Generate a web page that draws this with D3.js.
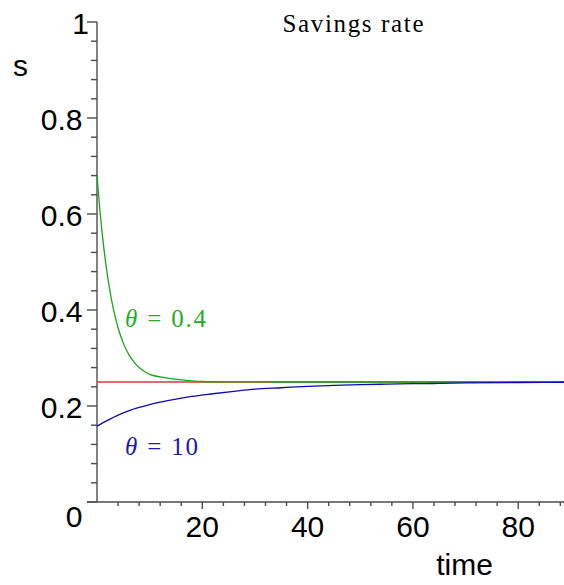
<!DOCTYPE html>
<html>
<head>
<meta charset="utf-8">
<script src="https://cdn.jsdelivr.net/npm/d3@7/dist/d3.min.js"></script>
<style>
  html, body { margin: 0; padding: 0; background: #fff; }
  svg { display: block; }
</style>
</head>
<body>
<svg id="chart" width="564" height="585"></svg>
<script>
// Savings rate s(t) for two values of theta, with the steady state s* = 0.25
const timeFast = [0, 0.5, 1, 1.5, 2, 2.5, 3, 3.5, 4, 5, 6, 7, 8, 9, 10, 12, 14, 16, 18, 20, 22, 25, 30, 40, 60, 89];
const sFast    = [0.680, 0.614, 0.558, 0.511, 0.471, 0.437, 0.408, 0.384, 0.363, 0.331, 0.308, 0.292, 0.280, 0.272, 0.266, 0.2605, 0.257, 0.2545, 0.2525, 0.251, 0.2505, 0.2503, 0.2501, 0.25, 0.25, 0.25];

const timeSlow = [0, 2, 4, 6, 8, 10, 12, 15, 18, 22, 26, 30, 35, 40, 45, 50, 55, 60, 65, 70, 80, 89];
const sSlow    = [0.158, 0.170, 0.181, 0.190, 0.197, 0.203, 0.208, 0.2145, 0.220, 0.2255, 0.2305, 0.235, 0.238, 0.241, 0.243, 0.2445, 0.2455, 0.2465, 0.247, 0.248, 0.249, 0.2495];

const timeSteady = [0, 89];
const sSteady    = [0.25, 0.25];

const yTickValues = [0, 0.2, 0.4, 0.6, 0.8, 1];
const yTickLabels = ["0", "0.2", "0.4", "0.6", "0.8", "1"];
const xTickValues = [20, 40, 60, 80];
const xTickLabels = ["20", "40", "60", "80"];

const svg = d3.select("#chart");
const x = d3.scaleLinear().domain([0, 89]).range([97, 565.6]);
const y = d3.scaleLinear().domain([0, 1]).range([502, 22]);

const axisColor = "#4d4d4d";
const sans = "'Liberation Sans', Arial, sans-serif";
const serif = "'Liberation Serif', 'Times New Roman', serif";

// minor ticks
const yMinor = d3.range(0, 1.0001, 0.04).filter(v => !yTickValues.some(t => Math.abs(t - v) < 1e-6));
const xMinor = d3.range(4, 89, 4).filter(v => !xTickValues.includes(v));

const yAxis = svg.append("g").attr("stroke", axisColor).attr("stroke-width", 1.4);
yAxis.selectAll("line.minor").data(yMinor).join("line")
  .attr("x1", 91).attr("x2", 97).attr("y1", d => y(d)).attr("y2", d => y(d));
yAxis.selectAll("line.major").data(yTickValues).join("line")
  .attr("x1", 87).attr("x2", 97).attr("y1", d => y(d)).attr("y2", d => y(d));
yAxis.append("line").attr("x1", 97).attr("x2", 97).attr("y1", y(1)).attr("y2", y(0));

const xAxis = svg.append("g").attr("stroke", axisColor).attr("stroke-width", 1.4);
xAxis.selectAll("line.minor").data(xMinor).join("line")
  .attr("y1", 502).attr("y2", 506).attr("x1", d => x(d)).attr("x2", d => x(d));
xAxis.selectAll("line.major").data(xTickValues).join("line")
  .attr("y1", 502).attr("y2", 509).attr("x1", d => x(d)).attr("x2", d => x(d));
xAxis.append("line").attr("x1", 87).attr("x2", 564).attr("y1", y(0)).attr("y2", y(0));

// tick labels
svg.append("g").selectAll("text").data(yTickValues).join("text")
  .attr("font-family", sans).attr("font-size", 30).attr("fill", "#000")
  .attr("text-anchor", "end")
  .attr("x", (d, i) => d === 1 ? 89 : 82.5)
  .attr("y", d => d === 0 ? y(d) + 25 : y(d) + 12)
  .text((d, i) => yTickLabels[i]);

svg.append("g").selectAll("text").data(xTickValues).join("text")
  .attr("font-family", sans).attr("font-size", 30).attr("fill", "#000")
  .attr("text-anchor", "middle")
  .attr("x", d => x(d)).attr("y", 536.5)
  .text((d, i) => xTickLabels[i]);

// axis titles
svg.append("text").attr("font-family", sans).attr("font-size", 30)
  .attr("x", 13).attr("y", 75.5).text("s");
svg.append("text").attr("font-family", sans).attr("font-size", 30)
  .attr("text-anchor", "middle").attr("x", 464.5).attr("y", 575).text("time");

// chart title
svg.append("text").attr("font-family", serif).attr("font-size", 25)
  .attr("x", 282.5).attr("y", 32).attr("textLength", 141).attr("lengthAdjust", "spacing")
  .text("Savings rate");

// curves
const line = d3.line().x(d => x(d[0])).y(d => y(d[1])).curve(d3.curveMonotoneX);
const series = [
  { t: timeSteady, s: sSteady, color: "#d63a3a" },
  { t: timeFast,   s: sFast,   color: "#14a814" },
  { t: timeSlow,   s: sSlow,   color: "#0c0cb0" }
];
svg.append("g").selectAll("path").data(series).join("path")
  .attr("fill", "none")
  .attr("stroke", d => d.color)
  .attr("stroke-width", 1.3)
  .attr("d", d => line(d.t.map((tv, i) => [tv, d.s[i]])));

// curve labels
function thetaLabel(value, color, xPos, yPos, width) {
  const t = svg.append("text").attr("font-family", serif).attr("font-size", 25)
    .attr("fill", color).attr("x", xPos).attr("y", yPos)
    .attr("textLength", width).attr("lengthAdjust", "spacing");
  t.append("tspan").attr("font-style", "italic").text("θ");
  t.append("tspan").text(" = " + value);
}
thetaLabel("0.4", "#22b022", 125, 327, 81);
thetaLabel("10", "#1a1ab4", 125, 455, 73);
</script>
</body>
</html>
